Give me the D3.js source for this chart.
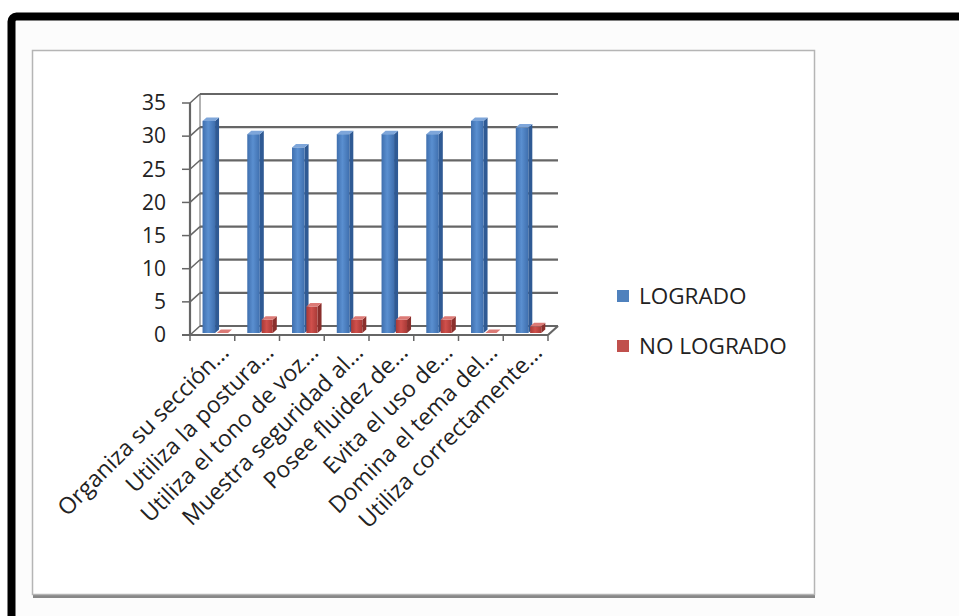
<!DOCTYPE html>
<html>
<head>
<meta charset="utf-8">
<script src="https://cdn.jsdelivr.net/npm/d3@7"></script>
<style>
  body { margin: 0; background: #fff; }
  svg { display: block; font-family: "Open Sans", sans-serif; }
</style>
</head>
<body>
<div class="grafico"></div>
<script>
const categories = [
  'Organiza su sección...', 'Utiliza la postura...', 'Utiliza el tono de voz...',
  'Muestra seguridad al...', 'Posee fluidez de...', 'Evita el uso de...',
  'Domina el tema del...', 'Utiliza correctamente...'
]
const logrado = [32, 30, 28, 30, 30, 30, 32, 31]
const noLogrado = [0, 2, 4, 2, 2, 2, 0, 1]
const yTicks = [0, 5, 10, 15, 20, 25, 30, 35]
const seriesNames = ['LOGRADO', 'NO LOGRADO']

const main = () => {
  const w = 959
  const h = 616

  /*Escalas: pared del fondo desplazada (dx, -dy) respecto al frente*/
  const dx = 10, dy = 9
  const xScale = d3.scaleBand()
    .domain(categories)
    .range([190, 548])

  const yFront = d3.scaleLinear()
    .domain([0, 35])
    .range([335, 103])

  const yBack = d3.scaleLinear()
    .domain([0, 35])
    .range([335 - dy, 103 - dy])

  const yBar = d3.scaleLinear()
    .domain([0, 35])
    .range([333, 333 - 232])

  const svg = d3.select('.grafico')
    .append('svg')
    .attr('width', w)
    .attr('height', h)

  const defs = svg.append('defs')
  const grad = (id, c1, c2) => {
    const g = defs.append('linearGradient').attr('id', id)
      .attr('x1', 0).attr('x2', 1).attr('y1', 0).attr('y2', 0)
    g.append('stop').attr('offset', '0%').attr('stop-color', c2)
    g.append('stop').attr('offset', '45%').attr('stop-color', c1)
    g.append('stop').attr('offset', '100%').attr('stop-color', c2)
  }
  grad('gBlue', '#5a8fd0', '#3f6fae')
  grad('gRed', '#d0504c', '#a83a37')

  /*Marco exterior negro y fondo*/
  svg.append('rect')
    .attr('x', 11.5).attr('y', 16.5)
    .attr('width', 1000).attr('height', 700)
    .attr('rx', 5)
    .attr('fill', '#fcfcfc')
    .attr('stroke', '#000')
    .attr('stroke-width', 8)

  /*Area del grafico*/
  svg.append('rect')
    .attr('x', 33).attr('y', 52)
    .attr('width', 782).attr('height', 546)
    .attr('fill', '#888')
  svg.append('rect')
    .attr('x', 32.5).attr('y', 50.5)
    .attr('width', 782).attr('height', 544)
    .attr('fill', '#fff')
    .attr('stroke', '#b5b5b5')
    .attr('stroke-width', 1.5)

  const grid = svg.append('g').attr('class', 'grid')
    .attr('stroke', '#666')
    .attr('stroke-width', 2.2)
    .attr('fill', 'none')

  const x0 = xScale.range()[0]
  const x1 = xScale.range()[1]

  /*Lineas de la pared del fondo*/
  grid.selectAll('.hline')
    .data(yTicks)
    .enter()
    .append('line')
    .attr('x1', x0 + dx).attr('x2', x1 + dx)
    .attr('y1', d => yBack(d)).attr('y2', d => yBack(d))

  /*Pared lateral*/
  grid.selectAll('.diag')
    .data(yTicks)
    .enter()
    .append('line')
    .attr('x1', x0 - 8).attr('x2', x0)
    .attr('y1', d => yFront(d)).attr('y2', d => yFront(d))
    .attr('stroke-width', 1.5)
  grid.selectAll('.diag2')
    .data(yTicks)
    .enter()
    .append('line')
    .attr('x1', x0).attr('x2', x0 + dx)
    .attr('y1', d => yFront(d)).attr('y2', d => yBack(d))
    .attr('stroke-width', 1.5)
  grid.append('line')
    .attr('x1', x0).attr('x2', x0)
    .attr('y1', yFront(0)).attr('y2', yFront(35))
  grid.append('line')
    .attr('x1', x0 + dx).attr('x2', x0 + dx)
    .attr('y1', yBack(0)).attr('y2', yBack(35))
    .attr('stroke-width', 1)

  /*Piso*/
  grid.append('line')
    .attr('x1', x0 - 8).attr('x2', x1)
    .attr('y1', yFront(0)).attr('y2', yFront(0))
  grid.append('line')
    .attr('x1', x1).attr('x2', x1 + dx)
    .attr('y1', yFront(0)).attr('y2', yBack(0))
  grid.selectAll('.xtick')
    .data(d3.range(categories.length + 1))
    .enter()
    .append('line')
    .attr('stroke-width', 1.5)
    .attr('x1', i => x0 + i * xScale.bandwidth())
    .attr('x2', i => x0 + i * xScale.bandwidth())
    .attr('y1', yFront(0)).attr('y2', yFront(0) + 6)

  /*Etiquetas eje y*/
  svg.append('g')
    .selectAll('text')
    .data(yTicks)
    .enter()
    .append('text')
    .attr('x', 166)
    .attr('y', d => yFront(d))
    .attr('dy', '0.35em')
    .attr('text-anchor', 'end')
    .attr('font-size', 21)
    .attr('fill', '#222')
    .text(d => d)

  /*Barras 3D*/
  const bw = xScale.bandwidth()
  const series = [
    { values: logrado, off: 0.28, wid: 0.28, front: 'url(#gBlue)', side: '#2f5a94', top: '#7ea6da' },
    { values: noLogrado, off: 0.6, wid: 0.25, front: 'url(#gRed)', side: '#8a2f2c', top: '#dc7a76' }
  ]
  const bd = 4, bh = 3.5
  const bars = svg.append('g').attr('class', 'bars')
  categories.forEach((c, i) => {
    series.forEach(s => {
      const xl = xScale(c) + s.off * bw
      const xr = xl + s.wid * bw
      const yb = yBar(0)
      const yt = yBar(s.values[i])
      const g = bars.append('g')
      g.append('path')
        .attr('d', `M${xr},${yb}L${xr + bd},${yb - bh}L${xr + bd},${yt - bh}L${xr},${yt}Z`)
        .attr('fill', s.side)
      g.append('rect')
        .attr('x', xl).attr('y', yt)
        .attr('width', xr - xl).attr('height', yb - yt)
        .attr('fill', s.front)
      g.append('path')
        .attr('d', `M${xl},${yt}L${xl + bd},${yt - bh}L${xr + bd},${yt - bh}L${xr},${yt}Z`)
        .attr('fill', s.top)
    })
  })

  /*Etiquetas categorias*/
  svg.append('g')
    .selectAll('text')
    .data(categories)
    .enter()
    .append('text')
    .attr('transform', d => `translate(${xScale(d) + bw / 2 + 18},${354}) rotate(-45)`)
    .attr('text-anchor', 'end')
    .attr('font-size', 23)
    .attr('fill', '#222')
    .text(d => d)

  /*Leyenda*/
  const legend = svg.append('g').attr('id', 'legend')
  const legColors = ['#4f81bd', '#c0504d']
  seriesNames.forEach((n, i) => {
    legend.append('rect')
      .attr('x', 617).attr('y', 290 + i * 50)
      .attr('width', 12).attr('height', 12)
      .attr('fill', legColors[i])
    legend.append('text')
      .attr('x', 639).attr('y', 296 + i * 50)
      .attr('dy', '0.35em')
      .attr('font-size', 22.5)
      .attr('fill', '#222')
      .text(n)
  })
}

main()
</script>
</body>
</html>
